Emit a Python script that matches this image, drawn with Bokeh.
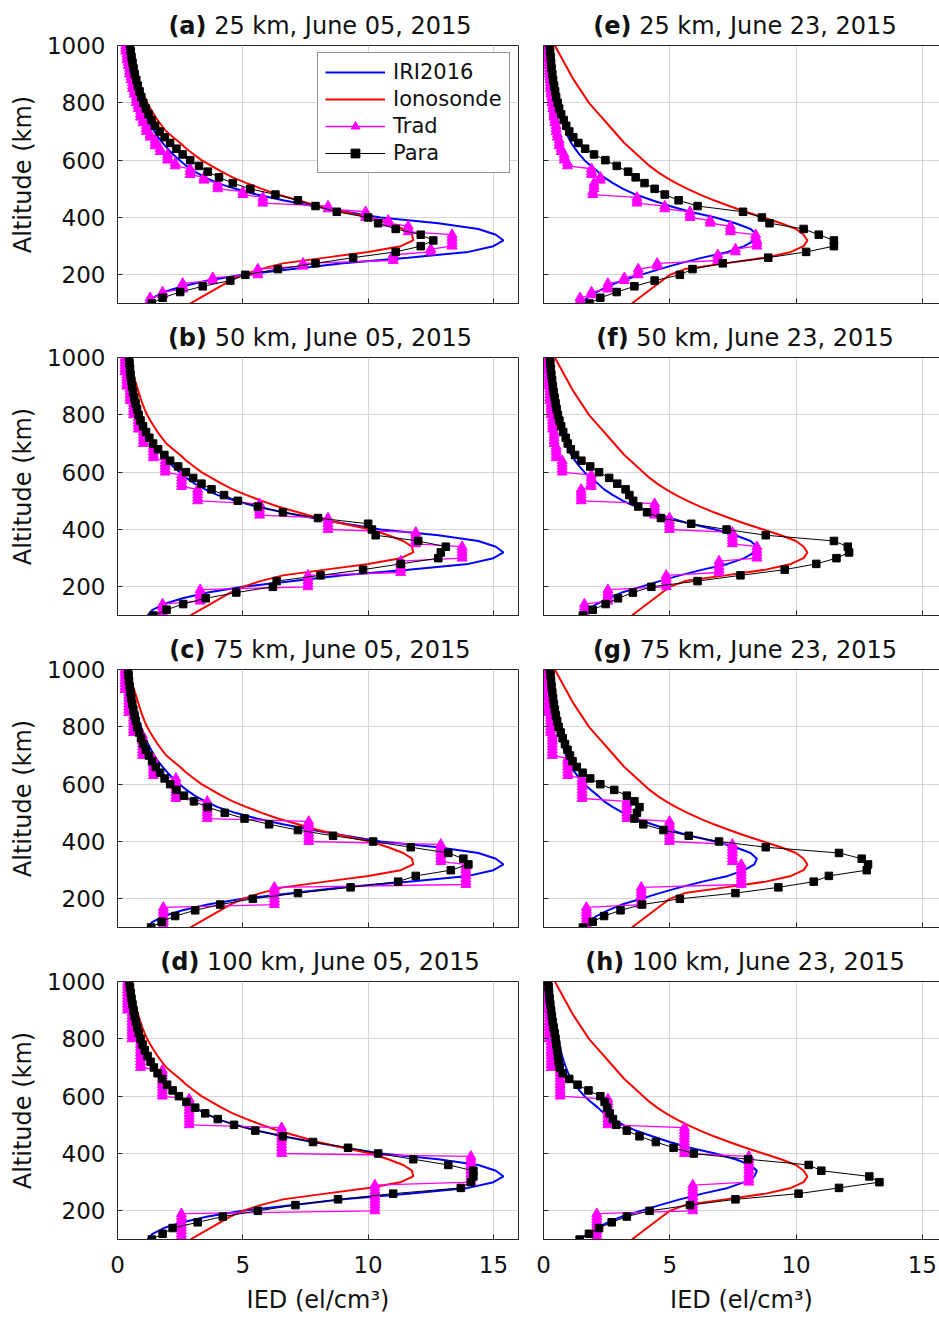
from bokeh.plotting import figure
from bokeh.models import (Range1d, FixedTicker, Legend, LegendItem, Div,
                          LinearAxis, ColumnDataSource, CustomJSTickFormatter)
from bokeh.layouts import column, row
from bokeh.embed import file_html
from bokeh.resources import INLINE

# ---------------- data ----------------
ALT_KM = [100, 120, 140, 160, 180, 200, 220, 240, 260, 280,
          300, 320, 340, 360, 380, 400, 420, 440, 460, 480,
          500, 520, 540, 560, 580, 600, 620, 640, 660, 680,
          700, 720, 740, 760, 780, 800, 820, 840, 860, 880,
          900, 920, 940, 960, 980, 1000]

IRI_JUN05 = [1.20, 1.40, 1.85, 2.60, 3.60, 5.00, 7.00, 9.00, 11.60, 14.00,
             15.00, 15.40, 15.10, 14.40, 12.80, 10.50, 9.10, 7.80, 6.60, 5.55,
             4.70, 4.00, 3.50, 3.08, 2.75, 2.48, 2.22, 2.00, 1.80, 1.62,
             1.47, 1.34, 1.22, 1.11, 1.01, 0.93, 0.86, 0.80, 0.75, 0.70,
             0.66, 0.62, 0.58, 0.55, 0.51, 0.48]
IONO_JUN05 = [2.90, 3.30, 3.70, 4.10, 4.50, 5.00, 5.70, 6.60, 8.30, 10.00,
              11.30, 11.80, 11.75, 11.40, 10.80, 10.10, 9.00, 8.00, 7.20, 6.40,
              5.75, 5.15, 4.60, 4.15, 3.75, 3.35, 3.05, 2.75, 2.50, 2.22,
              1.95, 1.77, 1.60, 1.45, 1.31, 1.18, 1.08, 0.99, 0.91, 0.84,
              0.77, 0.70, 0.63, 0.57, 0.51, 0.45]
IRI_JUN23 = [1.42, 1.75, 2.10, 2.55, 3.10, 3.85, 4.60, 5.40, 6.30, 7.30,
             7.95, 8.35, 8.45, 8.20, 7.60, 6.80, 5.80, 5.00, 4.30, 3.65,
             3.15, 2.75, 2.40, 2.15, 1.88, 1.62, 1.42, 1.25, 1.10, 0.98,
             0.89, 0.81, 0.74, 0.68, 0.63, 0.58, 0.54, 0.50, 0.47, 0.44,
             0.41, 0.38, 0.36, 0.34, 0.32, 0.30]
IONO_JUN23 = [3.50, 3.80, 4.10, 4.40, 4.70, 5.00, 5.60, 7.20, 8.80, 9.80,
              10.30, 10.45, 10.30, 10.00, 9.40, 8.70, 8.00, 7.35, 6.75, 6.20,
              5.70, 5.25, 4.85, 4.50, 4.20, 3.95, 3.70, 3.45, 3.20, 3.00,
              2.80, 2.60, 2.40, 2.20, 2.00, 1.80, 1.65, 1.50, 1.35, 1.20,
              1.07, 0.95, 0.82, 0.70, 0.57, 0.45]

PARA_A = [1.37, 1.80, 2.50, 3.40, 4.50, 5.10, 6.40, 7.90, 9.40, 11.10,
          12.10, 12.60, 12.10, 11.10, 10.40, 10.00, 8.75, 7.90, 7.20, 6.30,
          5.30, 4.60, 4.05, 3.60, 3.25, 2.90, 2.60, 2.35, 2.10, 1.88,
          1.68, 1.50, 1.36, 1.24, 1.13, 1.03, 0.95, 0.88, 0.81, 0.75,
          0.69, 0.64, 0.60, 0.56, 0.53, 0.50]
PARA_B = [1.43, 1.96, 2.62, 3.52, 4.74, 6.20, 6.35, 8.10, 9.80, 11.30,
          12.80, 12.90, 13.10, 12.00, 10.30, 10.15, 10.00, 8.00, 6.60, 5.60,
          4.80, 4.25, 3.75, 3.35, 3.02, 2.73, 2.42, 2.10, 1.87, 1.62,
          1.42, 1.27, 1.14, 1.02, 0.92, 0.84, 0.78, 0.72, 0.67, 0.62,
          0.58, 0.55, 0.52, 0.50, 0.48, 0.46]
PARA_C = [1.34, 1.76, 2.30, 3.10, 4.10, 5.40, 7.20, 9.30, 11.20, 11.90,
          13.30, 14.00, 13.80, 13.20, 11.70, 10.20, 8.60, 7.20, 6.05, 5.07,
          4.28, 3.60, 3.05, 2.65, 2.35, 2.10, 1.88, 1.70, 1.53, 1.38,
          1.25, 1.13, 1.03, 0.94, 0.86, 0.79, 0.73, 0.68, 0.63, 0.59,
          0.55, 0.52, 0.49, 0.46, 0.44, 0.42]
PARA_D = [1.37, 1.80, 2.20, 3.20, 4.20, 5.60, 7.10, 8.80, 11.00, 13.70,
          14.10, 14.20, 14.20, 13.20, 11.80, 10.40, 9.20, 7.80, 6.60, 5.50,
          4.65, 4.00, 3.50, 3.10, 2.75, 2.45, 2.20, 1.98, 1.78, 1.60,
          1.45, 1.32, 1.20, 1.09, 1.00, 0.92, 0.85, 0.79, 0.73, 0.68,
          0.64, 0.60, 0.56, 0.53, 0.50, 0.47]
PARA_E = [1.82, 2.25, 2.90, 3.60, 4.40, 5.40, 5.90, 7.10, 8.90, 10.40,
          11.50, 11.50, 10.90, 10.30, 8.95, 8.65, 7.90, 6.10, 5.35, 4.80,
          4.40, 4.00, 3.65, 3.35, 2.90, 2.45, 2.00, 1.65, 1.38, 1.18,
          1.02, 0.90, 0.80, 0.70, 0.62, 0.56, 0.50, 0.46, 0.42, 0.38,
          0.35, 0.32, 0.30, 0.28, 0.26, 0.25]
PARA_F = [1.56, 1.95, 2.46, 2.95, 3.54, 4.27, 6.10, 7.80, 9.55, 10.80,
          11.60, 12.10, 12.05, 11.50, 8.80, 7.25, 5.85, 4.65, 4.10, 3.75,
          3.55, 3.40, 3.25, 2.92, 2.60, 2.20, 1.85, 1.50, 1.25, 1.08,
          0.96, 0.88, 0.78, 0.70, 0.63, 0.57, 0.52, 0.48, 0.44, 0.40,
          0.37, 0.34, 0.31, 0.29, 0.27, 0.26]
PARA_G = [1.56, 1.95, 2.40, 3.05, 3.90, 5.40, 7.60, 9.30, 10.70, 11.30,
          12.80, 12.85, 12.60, 11.70, 8.80, 6.95, 5.75, 4.75, 3.95, 3.60,
          3.70, 3.80, 3.60, 3.30, 2.80, 2.25, 1.85, 1.55, 1.32, 1.15,
          1.05, 0.95, 0.85, 0.76, 0.68, 0.60, 0.54, 0.49, 0.45, 0.41,
          0.38, 0.35, 0.32, 0.30, 0.28, 0.26]
PARA_H = [1.43, 1.80, 2.20, 2.70, 3.30, 4.20, 5.80, 7.60, 10.10, 11.70,
          13.30, 12.90, 11.00, 10.50, 8.10, 5.95, 5.15, 4.45, 3.80, 3.30,
          2.88, 2.75, 2.62, 2.52, 2.42, 2.25, 1.78, 1.35, 1.02, 0.76,
          0.64, 0.60, 0.57, 0.54, 0.51, 0.48, 0.44, 0.40, 0.36, 0.33,
          0.30, 0.27, 0.24, 0.22, 0.20, 0.18]

# Trad: one value per resolution layer (layers start at 100 km)
TRAD_A = [1.30, 1.80, 2.60, 3.80, 5.60, 7.40, 11.00, 12.50, 13.35, 13.35,
          11.60, 10.80, 9.90, 8.40, 5.80, 5.00, 4.00, 3.45, 2.90, 2.30,
          2.00, 1.70, 1.50, 1.30, 1.15, 1.02, 0.92, 0.83, 0.75, 0.67,
          0.60, 0.54, 0.48, 0.43, 0.38, 0.33]
TRAD_B = [1.80, 3.30, 7.60, 11.30, 13.75, 11.90, 8.40, 5.67, 3.20, 2.56,
          1.90, 1.43, 1.03, 0.83, 0.64, 0.50, 0.37, 0.30]
TRAD_C = [1.83, 6.26, 13.90, 12.90, 7.63, 3.58, 2.33, 1.43, 1.00, 0.64, 0.45, 0.30]
TRAD_D = [2.55, 10.27, 14.10, 6.55, 2.86, 1.79, 0.92, 0.58, 0.40]
TRAD_E = [1.45, 1.90, 2.55, 3.20, 3.75, 4.50, 6.90, 7.60, 8.45, 8.40,
          7.40, 6.60, 5.80, 4.80, 3.70, 1.95, 2.00, 2.25, 1.90, 0.95,
          0.82, 0.70, 0.62, 0.55, 0.50, 0.45, 0.41, 0.37, 0.33, 0.30,
          0.27, 0.25, 0.23, 0.21, 0.19, 0.17]
TRAD_F = [1.62, 2.55, 4.86, 6.95, 8.45, 7.48, 4.99, 4.40, 1.49, 1.89,
          0.74, 0.50, 0.42, 0.36, 0.30, 0.25, 0.21, 0.18]
TRAD_G = [1.70, 3.87, 7.83, 7.48, 4.99, 3.30, 1.53, 0.96, 0.35, 0.28, 0.20, 0.16]
TRAD_H = [2.11, 5.91, 8.13, 5.58, 2.55, 0.66, 0.30, 0.22, 0.16]
TRAD_SAMPLE_ALT = list(range(100, 1001, 10))

PANELS = {
    "a": ("25 km, June 05, 2015", 25, IRI_JUN05, IONO_JUN05, PARA_A, TRAD_A),
    "b": ("50 km, June 05, 2015", 50, IRI_JUN05, IONO_JUN05, PARA_B, TRAD_B),
    "c": ("75 km, June 05, 2015", 75, IRI_JUN05, IONO_JUN05, PARA_C, TRAD_C),
    "d": ("100 km, June 05, 2015", 100, IRI_JUN05, IONO_JUN05, PARA_D, TRAD_D),
    "e": ("25 km, June 23, 2015", 25, IRI_JUN23, IONO_JUN23, PARA_E, TRAD_E),
    "f": ("50 km, June 23, 2015", 50, IRI_JUN23, IONO_JUN23, PARA_F, TRAD_F),
    "g": ("75 km, June 23, 2015", 75, IRI_JUN23, IONO_JUN23, PARA_G, TRAD_G),
    "h": ("100 km, June 23, 2015", 100, IRI_JUN23, IONO_JUN23, PARA_H, TRAD_H),
}

X_TICKS = [0, 5, 10, 15]
Y_TICKS = [200, 400, 600, 800, 1000]

# ---------------- style ----------------
FONT = "DejaVu Sans"
DARK = "#262626"
GRID = "#d6d6d6"
TXT = "#111111"


def style_axis(ax, show_labels):
    ax.axis_line_color = DARK
    ax.axis_line_width = 1
    ax.major_tick_line_color = DARK
    ax.major_tick_in = 5
    ax.major_tick_out = 0
    ax.minor_tick_line_color = None
    ax.major_label_text_font = FONT
    ax.major_label_text_font_size = "23px"
    ax.major_label_text_color = TXT
    ax.axis_label_text_font = FONT
    ax.axis_label_text_font_size = "24px"
    ax.axis_label_text_font_style = "normal"
    ax.axis_label_text_color = TXT
    if not show_labels:
        ax.formatter = CustomJSTickFormatter(code="return '';")
        ax.major_label_standoff = 0


def make_panel(key, left, bottom):
    title, res, iri, iono, para, trad = PANELS[key]
    xend = 16 if left else 15.68
    p = figure(width=530 if left else 409, height=364 if bottom else 290,
               x_range=Range1d(0, xend), y_range=Range1d(100, 1000),
               output_backend="svg", toolbar_location=None,
               min_border_left=117 if left else 13,
               min_border_right=12 if left else 0,
               min_border_top=23, min_border_bottom=83 if bottom else 9,
               background_fill_color="white", border_fill_color=None)
    p.outline_line_color = DARK if left else None
    p.outline_line_width = 1

    p.xaxis.ticker = FixedTicker(ticks=X_TICKS)
    p.yaxis.ticker = FixedTicker(ticks=Y_TICKS)
    p.xgrid.ticker = FixedTicker(ticks=X_TICKS)
    p.ygrid.ticker = FixedTicker(ticks=Y_TICKS)
    for g in (p.xgrid[0], p.ygrid[0]):
        g.grid_line_color = GRID
        g.grid_line_width = 1

    style_axis(p.xaxis[0], bottom)
    style_axis(p.yaxis[0], left)
    if left:
        p.yaxis.axis_label = "Altitude (km)"
        p.yaxis.major_label_standoff = 12
        p.yaxis.axis_label_standoff = 7
    if bottom:
        p.xaxis.axis_label = "IED (el/cm³)"
        p.xaxis.major_label_standoff = 16
        p.xaxis.axis_label_standoff = 10
    if not left:
        top = LinearAxis(ticker=FixedTicker(ticks=[]), axis_line_color=DARK,
                         major_tick_out=0, minor_tick_out=0, major_label_standoff=0,
                         formatter=CustomJSTickFormatter(code="return '';"))
        p.add_layout(top, "above")

    src = ColumnDataSource(dict(alt=ALT_KM, iri=iri, iono=iono, para=para))
    n = len(trad)
    trad_x = [trad[min((a - 100) // res, n - 1)] for a in TRAD_SAMPLE_ALT]
    tsrc = ColumnDataSource(dict(alt=TRAD_SAMPLE_ALT, trad=trad_x))

    r_iri = p.line("iri", "alt", source=src, line_color="#0000ff", line_width=2)
    r_iono = p.line("iono", "alt", source=src, line_color="#ff0000", line_width=2)
    r_tl = p.line("trad", "alt", source=tsrc, line_color="#ff00ff", line_width=1.3)
    r_ts = p.scatter("trad", "alt", source=tsrc, marker="triangle", size=10,
                     fill_color="#ff00ff", line_color="#ff00ff")
    r_pl = p.line("para", "alt", source=src, line_color="black", line_width=1)
    r_ps = p.scatter("para", "alt", source=src, marker="square", size=7.5,
                     fill_color="black", line_color="black")

    if key == "a":
        leg = Legend(items=[LegendItem(label="IRI2016", renderers=[r_iri]),
                            LegendItem(label="Ionosonde", renderers=[r_iono]),
                            LegendItem(label="Trad", renderers=[r_tl, r_ts]),
                            LegendItem(label="Para", renderers=[r_pl, r_ps])],
                     location=(200, 130))
        leg.label_text_font = FONT
        leg.label_text_font_size = "21px"
        leg.label_text_color = TXT
        leg.glyph_width = 60
        leg.glyph_height = 22
        leg.label_height = 22
        leg.label_standoff = 8
        leg.spacing = 3
        leg.padding = 7
        leg.margin = 0
        leg.border_line_color = DARK
        leg.border_line_width = 1
        leg.background_fill_color = "white"
        leg.background_fill_alpha = 1
        p.add_layout(leg)
    return p


def title_div(lk, rk):
    def one(key, ml, w, pl):
        return ('<div style="margin-left:%dpx;width:%dpx;padding-left:%dpx;'
                'box-sizing:border-box;text-align:center;white-space:nowrap;">'
                '<b>(%s)</b> %s</div>' % (ml, w, pl, key, PANELS[key][0]))
    html = ('<div style="display:flex;font-family:\'DejaVu Sans\';font-size:24px;'
            'line-height:22px;padding-top:15px;color:#111111;">'
            + one(lk, 117, 401, 5) + one(rk, 25, 396, 8) + '</div>')
    return Div(text=html, width=939, height=22, margin=(0, 0, 0, 0),
               styles={"overflow": "visible"})


parts = []
for lk, rk, is_bottom in (("a", "e", False), ("b", "f", False),
                          ("c", "g", False), ("d", "h", True)):
    parts.append(title_div(lk, rk))
    parts.append(row(make_panel(lk, True, is_bottom), make_panel(rk, False, is_bottom)))
layout = column(*parts)

open("out.html", "w").write(file_html(layout, INLINE))
